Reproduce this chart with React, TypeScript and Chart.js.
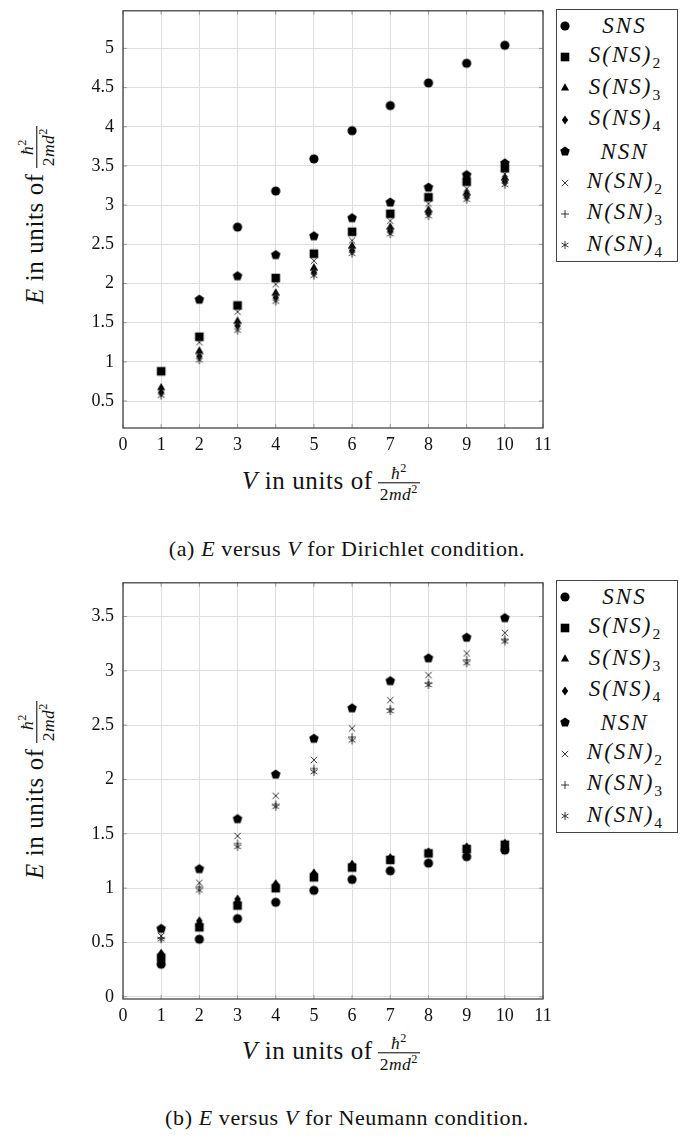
import React, { useEffect, useRef } from 'react';
import { Chart, registerables } from 'chart.js';

Chart.register(...registerables);

// V values (units of hbar^2 / 2md^2)
const vValues = [1, 2, 3, 4, 5, 6, 7, 8, 9, 10];

// Dirichlet condition
const dirSNS = [null, null, 2.72, 3.18, 3.59, 3.95, 4.27, 4.56, 4.81, 5.04];
const dirSNS2 = [0.88, 1.32, 1.72, 2.07, 2.38, 2.66, 2.89, 3.1, 3.3, 3.47];
const dirSNS3 = [0.67, 1.14, 1.52, 1.88, 2.2, 2.48, 2.72, 2.94, 3.16, 3.35];
const dirSNS4 = [0.61, 1.07, 1.46, 1.82, 2.14, 2.42, 2.67, 2.9, 3.11, 3.3];
const dirNSN = [null, 1.8, 2.1, 2.37, 2.61, 2.84, 3.04, 3.23, 3.39, 3.54];
const dirNSN2 = [null, 1.25, 1.64, 1.99, 2.29, 2.55, 2.8, 3.02, 3.21, 3.4];
const dirNSN3 = [null, 1.1, 1.49, 1.85, 2.17, 2.45, 2.7, 2.92, 3.13, 3.32];
const dirNSN4 = [0.57, 1.02, 1.4, 1.77, 2.1, 2.38, 2.63, 2.86, 3.07, 3.26];

// Neumann condition
const neuSNS = [0.3, 0.53, 0.72, 0.87, 0.98, 1.08, 1.16, 1.23, 1.29, 1.35];
const neuSNS2 = [0.36, 0.64, 0.84, 1.0, 1.1, 1.19, 1.26, 1.32, 1.36, 1.4];
const neuSNS3 = [0.39, 0.68, 0.88, 1.03, 1.13, 1.21, 1.27, 1.33, 1.37, 1.41];
const neuSNS4 = [0.4, 0.7, 0.9, 1.04, 1.14, 1.22, 1.28, 1.33, 1.38, 1.41];
const neuNSN = [0.63, 1.18, 1.64, 2.05, 2.38, 2.66, 2.91, 3.12, 3.31, 3.49];
const neuNSN2 = [0.56, 1.05, 1.48, 1.85, 2.18, 2.47, 2.73, 2.96, 3.16, 3.35];
const neuNSN3 = [0.54, 1.01, 1.41, 1.77, 2.1, 2.39, 2.65, 2.89, 3.1, 3.29];
const neuNSN4 = [0.53, 0.98, 1.38, 1.75, 2.07, 2.36, 2.63, 2.87, 3.07, 3.27];

const xTicks = [0, 1, 2, 3, 4, 5, 6, 7, 8, 9, 10, 11];
const dirYTicks = [0.5, 1, 1.5, 2, 2.5, 3, 3.5, 4, 4.5, 5];
const neuYTicks = [0, 0.5, 1, 1.5, 2, 2.5, 3, 3.5];

const seriesNames = ['SNS', 'S(NS)2', 'S(NS)3', 'S(NS)4', 'NSN', 'N(SN)2', 'N(SN)3', 'N(SN)4'];
const markerKinds = ['circle', 'square', 'triangle', 'diamond', 'pentagon', 'times', 'plus', 'asterisk'];

const SERIF = '"Liberation Serif", "DejaVu Serif", serif';

function makeMarker(kind: string) {
  const c = document.createElement('canvas');
  c.width = 14;
  c.height = 14;
  const ctx = c.getContext('2d')!;
  const cx = 7, cy = 7;
  ctx.fillStyle = '#000';
  ctx.strokeStyle = '#222';
  ctx.lineWidth = 0.9;
  ctx.beginPath();
  if (kind === 'circle') {
    ctx.arc(cx, cy, 4.6, 0, Math.PI * 2);
    ctx.fill();
  } else if (kind === 'square') {
    ctx.fillRect(cx - 4.3, cy - 4.3, 8.6, 8.6);
  } else if (kind === 'triangle') {
    ctx.moveTo(cx, cy - 4.7);
    ctx.lineTo(cx + 4.1, cy + 2.4);
    ctx.lineTo(cx - 4.1, cy + 2.4);
    ctx.closePath();
    ctx.fill();
  } else if (kind === 'diamond') {
    ctx.moveTo(cx, cy - 4.6);
    ctx.lineTo(cx + 3.2, cy);
    ctx.lineTo(cx, cy + 4.6);
    ctx.lineTo(cx - 3.2, cy);
    ctx.closePath();
    ctx.fill();
  } else if (kind === 'pentagon') {
    for (let i = 0; i < 5; i++) {
      const a = -Math.PI / 2 + (i * 2 * Math.PI) / 5;
      const px = cx + 5 * Math.cos(a);
      const py = cy + 0.4 + 5 * Math.sin(a);
      if (i === 0) ctx.moveTo(px, py);
      else ctx.lineTo(px, py);
    }
    ctx.closePath();
    ctx.fill();
  } else if (kind === 'times') {
    ctx.moveTo(cx - 3.2, cy - 3.2);
    ctx.lineTo(cx + 3.2, cy + 3.2);
    ctx.moveTo(cx + 3.2, cy - 3.2);
    ctx.lineTo(cx - 3.2, cy + 3.2);
    ctx.stroke();
  } else if (kind === 'plus') {
    ctx.moveTo(cx - 4, cy);
    ctx.lineTo(cx + 4, cy);
    ctx.moveTo(cx, cy - 4);
    ctx.lineTo(cx, cy + 4);
    ctx.stroke();
  } else {
    for (let i = 0; i < 3; i++) {
      const a = Math.PI / 2 + (i * Math.PI) / 3;
      ctx.moveTo(cx - 4 * Math.cos(a), cy - 4 * Math.sin(a));
      ctx.lineTo(cx + 4 * Math.cos(a), cy + 4 * Math.sin(a));
    }
    ctx.stroke();
  }
  return c;
}

const markers = markerKinds.map(makeMarker);
const markerUrls = markers.map((m) => m.toDataURL());

const framePlugin = {
  id: 'frame',
  beforeDatasetsDraw(chart: any) {
    const { ctx, chartArea: a, scales } = chart;
    ctx.save();
    ctx.strokeStyle = '#999';
    ctx.lineWidth = 1;
    ctx.beginPath();
    scales.y.ticks.forEach((t: any) => {
      const y = scales.y.getPixelForValue(t.value);
      ctx.moveTo(a.left, y);
      ctx.lineTo(a.left + 4, y);
      ctx.moveTo(a.right, y);
      ctx.lineTo(a.right - 4, y);
    });
    scales.x.ticks.forEach((t: any) => {
      const x = scales.x.getPixelForValue(t.value);
      ctx.moveTo(x, a.bottom);
      ctx.lineTo(x, a.bottom - 4);
      ctx.moveTo(x, a.top);
      ctx.lineTo(x, a.top + 4);
    });
    ctx.stroke();
    ctx.strokeStyle = '#444';
    ctx.lineWidth = 1.3;
    ctx.strokeRect(a.left, a.top, a.right - a.left, a.bottom - a.top);
    ctx.restore();
  },
};

function ScatterPanel(props: { series: (number | null)[][]; yMin: number; yMax: number; yTicks: number[] }) {
  const canvasRef = useRef<HTMLCanvasElement>(null);

  useEffect(() => {
    if (!canvasRef.current) return;
    const n = props.series.length;
    const datasets = props.series.map((arr, i) => ({
      label: seriesNames[i],
      data: vValues
        .map((v, j) => ({ x: v, y: arr[j] }))
        .filter((p) => p.y !== null),
      pointStyle: markers[i],
      pointRadius: 5,
      showLine: false,
      order: n - i,
    }));
    const tickFont = { family: SERIF, size: 18 };
    const chart = new Chart(canvasRef.current, {
      type: 'scatter',
      data: { datasets } as any,
      options: {
        animation: false,
        responsive: true,
        maintainAspectRatio: false,
        layout: { padding: { top: 0, right: 20, left: 0, bottom: 0 } },
        plugins: { legend: { display: false }, tooltip: { enabled: false } },
        scales: {
          x: {
            type: 'linear',
            min: 0,
            max: 11,
            grid: { color: '#dedede', drawTicks: false },
            border: { display: false },
            ticks: { padding: 6, color: '#111', font: tickFont, callback: (v: any) => String(v) },
            afterBuildTicks: (s: any) => {
              s.ticks = xTicks.map((v) => ({ value: v }));
            },
            afterFit: (s: any) => {
              s.height = 32;
            },
          },
          y: {
            type: 'linear',
            min: props.yMin,
            max: props.yMax,
            grid: { color: '#dedede', drawTicks: false },
            border: { display: false },
            ticks: { padding: 9, color: '#111', font: tickFont, callback: (v: any) => String(v) },
            afterBuildTicks: (s: any) => {
              s.ticks = props.yTicks.map((v) => ({ value: v }));
            },
            afterFit: (s: any) => {
              s.width = 63;
            },
          },
        },
      },
      plugins: [framePlugin],
    });
    return () => chart.destroy();
  }, []);

  return <canvas ref={canvasRef} />;
}

function Frac() {
  return (
    <span
      style={{
        display: 'inline-flex',
        flexDirection: 'column',
        alignItems: 'center',
        verticalAlign: 'middle',
        fontSize: '0.7em',
        lineHeight: 1.05,
        marginLeft: 5,
        letterSpacing: 0.5,
      }}
    >
      <span style={{ padding: '0 2px' }}>
        <i>ħ</i>
        <sup style={{ fontSize: '0.7em' }}>2</sup>
      </span>
      <span style={{ borderTop: '1px solid #000', padding: '0 2px' }}>
        2<i>md</i>
        <sup style={{ fontSize: '0.7em' }}>2</sup>
      </span>
    </span>
  );
}

function AxisTitle(props: { letter: string; x: number; y: number; rotate?: boolean }) {
  return (
    <div
      style={{
        position: 'absolute',
        left: props.x,
        top: props.y,
        transform: `translate(-50%, -50%)${props.rotate ? ' rotate(-90deg)' : ''}`,
        whiteSpace: 'nowrap',
        fontFamily: SERIF,
        fontSize: 25,
        letterSpacing: 0.6,
        color: '#111',
      }}
    >
      <i>{props.letter}</i> in units of
      <Frac />
    </div>
  );
}

function LegendLabel(props: { name: string }) {
  const m = props.name.match(/^(.*?)(\d)?$/)!;
  return (
    <span>
      <i>{m[1]}</i>
      {m[2] && <sub style={{ fontStyle: 'normal', fontSize: '0.68em', letterSpacing: 0 }}>{m[2]}</sub>}
    </span>
  );
}

function Legend(props: { top: number }) {
  return (
    <div
      style={{
        position: 'absolute',
        left: 556,
        top: props.top,
        width: 120,
        height: 251,
        border: '1.3px solid #444',
        background: '#fff',
        fontFamily: SERIF,
        fontSize: 23,
        color: '#111',
        display: 'flex',
        flexDirection: 'column',
      }}
    >
      {seriesNames.map((name, i) => (
        <div key={name} style={{ height: 31.4, display: 'flex', alignItems: 'center' }}>
          <img src={markerUrls[i]} style={{ width: 14, height: 14, marginLeft: 1 }} />
          <div style={{ flex: 1, textAlign: 'center', letterSpacing: 2, lineHeight: 1 }}>
            <LegendLabel name={name} />
          </div>
        </div>
      ))}
    </div>
  );
}

function Caption(props: { tag: string; cond: string; y: number }) {
  return (
    <div
      style={{
        position: 'absolute',
        left: 347,
        top: props.y,
        transform: 'translate(-50%, -50%)',
        whiteSpace: 'nowrap',
        fontFamily: SERIF,
        fontSize: 22,
        letterSpacing: 0.6,
        color: '#111',
      }}
    >
      ({props.tag}) <i>E</i> versus <i>V</i> for {props.cond} condition.
    </div>
  );
}

export default function App() {
  return (
    <div style={{ position: 'absolute', left: 0, top: 0, width: 692, height: 1143, background: '#fff', overflow: 'hidden' }}>
      <div style={{ position: 'absolute', left: 60, top: -9, width: 503, height: 469 }}>
        <ScatterPanel
          series={[dirSNS, dirSNS2, dirSNS3, dirSNS4, dirNSN, dirNSN2, dirNSN3, dirNSN4]}
          yMin={0.156}
          yMax={5.48}
          yTicks={dirYTicks}
        />
      </div>
      <Legend top={9} />
      <AxisTitle letter="E" x={37} y={215} rotate />
      <AxisTitle letter="V" x={331} y={483} />
      <Caption tag="a" cond="Dirichlet" y={549} />

      <div style={{ position: 'absolute', left: 60, top: 563, width: 503, height: 468 }}>
        <ScatterPanel
          series={[neuSNS, neuSNS2, neuSNS3, neuSNS4, neuNSN, neuNSN2, neuNSN3, neuNSN4]}
          yMin={-0.02}
          yMax={3.81}
          yTicks={neuYTicks}
        />
      </div>
      <Legend top={580} />
      <AxisTitle letter="E" x={37} y={790} rotate />
      <AxisTitle letter="V" x={331} y={1053} />
      <Caption tag="b" cond="Neumann" y={1118} />
    </div>
  );
}
